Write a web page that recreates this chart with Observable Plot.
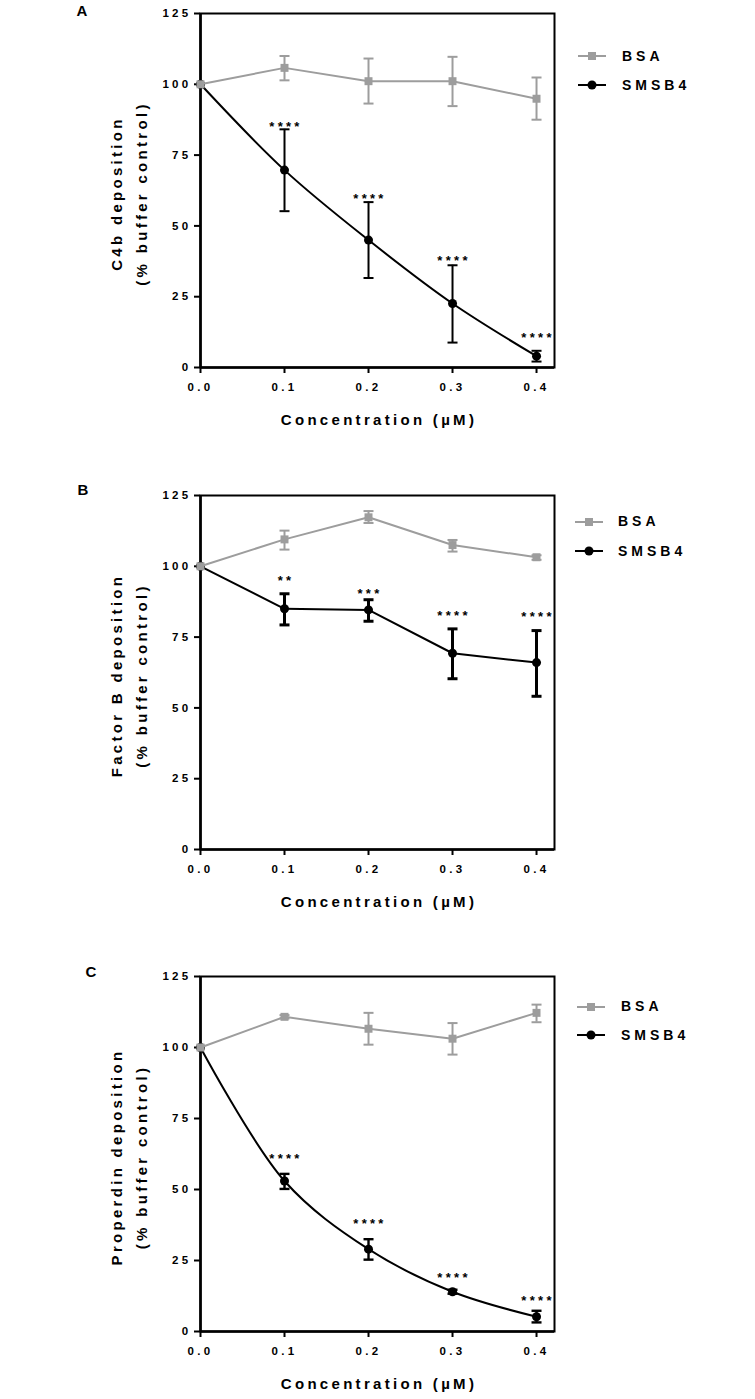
<!DOCTYPE html>
<html>
<head>
<meta charset="utf-8">
<script src="https://cdn.jsdelivr.net/npm/d3@7"></script>
<script src="https://cdn.jsdelivr.net/npm/@observablehq/plot@0.6"></script>
<style>
  html, body { margin: 0; padding: 0; background: #fff; }
  #root { position: relative; width: 755px; height: 1399px; overflow: hidden; font-family: "Liberation Sans", Arial, sans-serif; }
  .panel { position: absolute; left: 0; }
  .legend { position: absolute; font-weight: bold; font-size: 14px; letter-spacing: 4px; color: #000; }
</style>
</head>
<body>
<div id="root"></div>
<script>
// ---------- data ----------
const concentration = [0, 0.1, 0.2, 0.3, 0.4];
const xTicks = [0, 0.1, 0.2, 0.3, 0.4];
const yTicks = [0, 25, 50, 75, 100, 125];
const seriesNames = ["BSA", "SMSB4"];

// Panel A: C4b deposition
const bsaA   = [100, 105.8, 101.1, 101.1, 94.9];
const bsaALo = [100, 101.4, 93.2, 92.3, 87.5];
const bsaAHi = [100, 110.0, 109.1, 109.7, 102.4];
const smA    = [100, 69.7, 45.0, 22.6, 4.0];
const smALo  = [100, 55.2, 31.6, 8.8, 2.1];
const smAHi  = [100, 84.1, 58.4, 36.1, 5.9];
const starsA = ["", "****", "****", "****", "****"];
const starYA = [null, 86.1, 60.7, 38.6, 11.4];

// Panel B: Factor B deposition
const bsaB   = [100, 109.5, 117.3, 107.5, 103.2];
const bsaBLo = [100, 105.9, 115.3, 105.2, 102.3];
const bsaBHi = [100, 112.6, 119.5, 109.3, 103.9];
const smB    = [100, 85.0, 84.6, 69.3, 66.0];
const smBLo  = [100, 79.3, 80.6, 60.3, 54.1];
const smBHi  = [100, 90.3, 88.2, 77.9, 77.3];
const starsB = ["", "**", "***", "****", "****"];
const starYB = [null, 95.8, 91.5, 83.4, 83.2];

// Panel C: Properdin deposition
const bsaC   = [100, 110.8, 106.6, 103.1, 112.2];
const bsaCLo = [100, 110.2, 101.0, 97.5, 108.9];
const bsaCHi = [100, 111.4, 112.2, 108.6, 115.1];
const smC    = [100, 53.0, 29.0, 14.0, 5.2];
const smCLo  = [100, 50.2, 25.3, 13.3, 3.2];
const smCHi  = [100, 55.5, 32.5, 14.7, 7.3];
const starsC = ["", "****", "****", "****", "****"];
const starYC = [null, 61.9, 39.0, 20.0, 11.7];

const xLabel = "Concentration (\u00b5M)";
const yLabel2 = "(% buffer control)";

// ---------- drawing ----------
const GRAY = "#9d9d9d";
const BLACK = "#000";
const root = document.getElementById("root");

const cap = { draw(ctx) { ctx.moveTo(-5, 0); ctx.lineTo(5, 0); } };

function rows(vals, lo, hi) {
  return concentration.map((c, i) => ({ x: c, y: vals[i], lo: lo[i], hi: hi[i] }));
}

function panel(cfg) {
  const bsa = rows(cfg.bsa, cfg.bsaLo, cfg.bsaHi);
  const sm = rows(cfg.sm, cfg.smLo, cfg.smHi);
  const bsaErr = bsa.filter(d => d.hi - d.lo > 0.8);
  const smErr = sm.filter(d => d.hi - d.lo > 0.8);
  const stars = concentration.map((c, i) => ({ x: c, y: cfg.starY[i], t: cfg.stars[i] })).filter(d => d.t);

  const chart = Plot.plot({
    width: 755,
    height: cfg.height,
    marginLeft: 200,
    marginRight: 201,
    marginTop: cfg.mt,
    marginBottom: cfg.mb,
    x: { domain: [0, 0.4214] },
    y: { domain: [0, 125] },
    style: { fontFamily: "'Liberation Sans', Arial, sans-serif", fontWeight: "bold", background: "#fff", color: "#000", overflow: "visible", letterSpacing: "3.3px" },
    marks: [
      Plot.frame({ stroke: BLACK, strokeWidth: 2 }),
      Plot.ruleX([0], { stroke: BLACK, strokeWidth: 2.6 }),
      Plot.ruleY([0], { stroke: BLACK, strokeWidth: 2.6 }),
      Plot.axisY({ ticks: yTicks, tickSize: 6, tickPadding: 3, strokeWidth: 2, fontSize: 11.5, label: null }),
      Plot.axisX({ ticks: xTicks, tickSize: 6, tickPadding: 9, strokeWidth: 2, fontSize: 11.5, label: null, tickFormat: d3.format(".1f") }),
      Plot.text([xLabel], { text: d => d, frameAnchor: "bottom", textAnchor: "middle", dy: 53, dx: 1.5, fontSize: 15, lineAnchor: "middle" }),
      Plot.text([cfg.ylabel], { text: d => d, frameAnchor: "left", textAnchor: "middle", lineAnchor: "middle", rotate: -90, dx: -83, dy: 3, fontSize: 15 }),
      Plot.text([yLabel2], { text: d => d, frameAnchor: "left", textAnchor: "middle", lineAnchor: "middle", rotate: -90, dx: -58, dy: 3, fontSize: 15 }),
      Plot.text([cfg.letter], { text: d => d, frameAnchor: "top-left", textAnchor: "middle", dx: cfg.letterDx, dy: cfg.letterDy, fontSize: 15, lineAnchor: "middle" }),
      // SMSB4
      Plot.line(sm, { x: "x", y: "y", stroke: BLACK, strokeWidth: 2, curve: cfg.curve }),
      Plot.ruleX(smErr, { x: "x", y1: "lo", y2: "hi", stroke: BLACK, strokeWidth: cfg.errW }),
      Plot.dot(smErr, { x: "x", y: "lo", symbol: cap, r: 5, stroke: BLACK, fill: "none", strokeWidth: cfg.errW }),
      Plot.dot(smErr, { x: "x", y: "hi", symbol: cap, r: 5, stroke: BLACK, fill: "none", strokeWidth: cfg.errW }),
      Plot.dot(sm, { x: "x", y: "y", symbol: "circle", r: 4.5, fill: BLACK, stroke: "none" }),
      // BSA
      Plot.line(bsa, { x: "x", y: "y", stroke: GRAY, strokeWidth: 2 }),
      Plot.ruleX(bsaErr, { x: "x", y1: "lo", y2: "hi", stroke: GRAY, strokeWidth: 2 }),
      Plot.dot(bsaErr, { x: "x", y: "lo", symbol: cap, r: 5, stroke: GRAY, fill: "none", strokeWidth: 2 }),
      Plot.dot(bsaErr, { x: "x", y: "hi", symbol: cap, r: 5, stroke: GRAY, fill: "none", strokeWidth: 2 }),
      Plot.dot(bsa, { x: "x", y: "y", symbol: "square", r: 4.5, fill: GRAY, stroke: "none" }),
      // significance stars
      Plot.text(stars, { x: "x", y: "y", text: "t", fontSize: 13, dx: 1.5, dy: 3, lineAnchor: "middle" })
    ]
  });
  const div = document.createElement("div");
  div.className = "panel";
  div.style.top = cfg.top + "px";
  div.appendChild(chart);
  root.appendChild(div);

  // legend
  const lg = cfg.legend;
  const swatch = (color, circle) => {
    const s = lg.x2 - lg.x1;
    const m = s / 2;
    const marker = circle
      ? `<circle cx="${m}" cy="6" r="4.5" fill="${color}"/>`
      : `<rect x="${m - 4}" y="2" width="8" height="8" fill="${color}"/>`;
    return `<svg width="${s}" height="12" style="position:absolute;left:0;top:-6px;overflow:visible"><line x1="0" y1="6" x2="${s}" y2="6" stroke="${color}" stroke-width="2"/>${marker}</svg>`;
  };
  [[seriesNames[0], GRAY, false, lg.y1], [seriesNames[1], BLACK, true, lg.y2]].forEach(([name, color, circle, y]) => {
    const sw = document.createElement("div");
    sw.className = "legend";
    sw.style.left = lg.x1 + "px";
    sw.style.top = y + "px";
    sw.innerHTML = swatch(color, circle);
    root.appendChild(sw);
    const t = document.createElement("div");
    t.className = "legend";
    t.style.left = lg.tx + "px";
    t.style.top = (y - 8.5) + "px";
    t.style.lineHeight = "17px";
    t.textContent = name;
    root.appendChild(t);
  });
}

panel({
  top: 0, height: 440, mt: 13, mb: 73,
  bsa: bsaA, bsaLo: bsaALo, bsaHi: bsaAHi, sm: smA, smLo: smALo, smHi: smAHi,
  stars: starsA, starY: starYA, ylabel: "C4b deposition",
  letter: "A", letterDx: -117, letterDy: -2, curve: "catmull-rom", errW: 2,
  legend: { x1: 578, x2: 606, tx: 622, y1: 56, y2: 85 }
});
panel({
  top: 480, height: 440, mt: 15, mb: 71,
  bsa: bsaB, bsaLo: bsaBLo, bsaHi: bsaBHi, sm: smB, smLo: smBLo, smHi: smBHi,
  stars: starsB, starY: starYB, ylabel: "Factor B deposition",
  letter: "B", letterDx: -116, letterDy: -5, curve: "linear", errW: 3,
  legend: { x1: 575, x2: 603, tx: 618, y1: 521.7, y2: 551 }
});
panel({
  top: 960, height: 439, mt: 16, mb: 68,
  bsa: bsaC, bsaLo: bsaCLo, bsaHi: bsaCHi, sm: smC, smLo: smCLo, smHi: smCHi,
  stars: starsC, starY: starYC, ylabel: "Properdin deposition",
  letter: "C", letterDx: -108, letterDy: -4, curve: "catmull-rom", errW: 2.4,
  legend: { x1: 577, x2: 605, tx: 621, y1: 1006.7, y2: 1035 }
});
</script>
</body>
</html>
